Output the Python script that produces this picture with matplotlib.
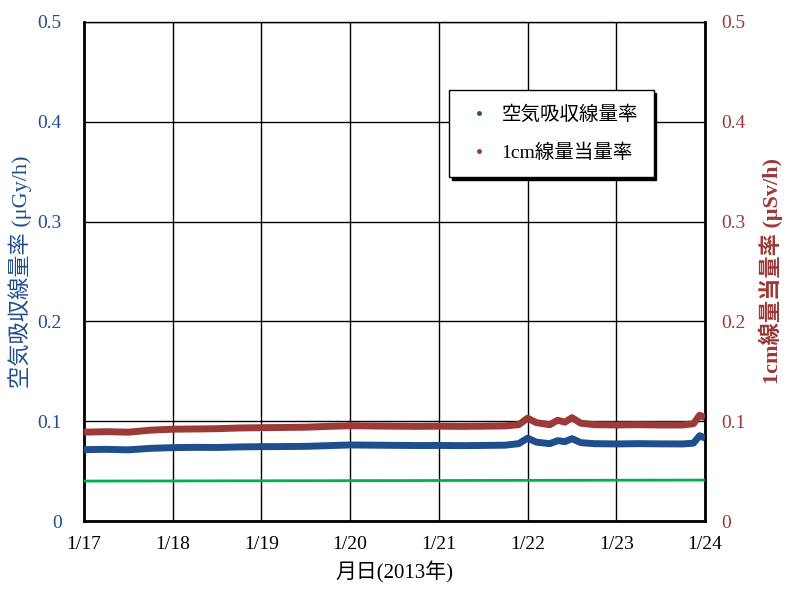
import matplotlib.pyplot as plt
from matplotlib.lines import Line2D

plt.rcParams['font.family'] = ['Liberation Serif', 'Noto Sans CJK JP', 'DejaVu Sans']

# days since 1/17 00:00
days = [0, 0.25, 0.5, 0.75, 1.0, 1.25, 1.5, 1.75, 2.0, 2.25, 2.5, 2.75, 3.0, 3.25,
        3.5, 3.75, 4.0, 4.25, 4.5, 4.75, 4.9, 5.0, 5.1, 5.25, 5.34, 5.42, 5.5, 5.6,
        5.75, 6.0, 6.25, 6.5, 6.75, 6.87, 6.94, 7.0]
air_dose = [0.0715, 0.0718, 0.0713, 0.0728, 0.0735, 0.0738, 0.0737, 0.0742, 0.0745,
            0.0746, 0.0748, 0.0755, 0.0762, 0.0760, 0.0758, 0.0756, 0.0757, 0.0755,
            0.0757, 0.0760, 0.0775, 0.0830, 0.0790, 0.0775, 0.0805, 0.0795, 0.0825,
            0.0785, 0.0775, 0.0772, 0.0775, 0.0773, 0.0772, 0.0780, 0.0855, 0.0830]
dose_1cm = [0.0890, 0.0895, 0.0890, 0.0910, 0.0920, 0.0922, 0.0925, 0.0932, 0.0935,
            0.0937, 0.0940, 0.0948, 0.0955, 0.0952, 0.0950, 0.0948, 0.0950, 0.0948,
            0.0950, 0.0953, 0.0965, 0.1030, 0.0985, 0.0965, 0.1010, 0.0990, 0.1035,
            0.0980, 0.0965, 0.0962, 0.0965, 0.0962, 0.0962, 0.0975, 0.1060, 0.1035]
green_days = [0, 3.5, 7]
green_level = [0.0400, 0.0405, 0.0410]

xticklabels = ['1/17', '1/18', '1/19', '1/20', '1/21', '1/22', '1/23', '1/24']
yticks = [0, 0.1, 0.2, 0.3, 0.4, 0.5]
yticklabels = ['0', '0.1', '0.2', '0.3', '0.4', '0.5']

blue = '#1F4E8C'
red = '#9B3A38'
green = '#00B050'

fig = plt.figure(figsize=(7.85, 5.90), dpi=100)
ax = fig.add_axes([84/785, 69/590, 621/785, 499/590])

ax.plot(days, dose_1cm, color=red, lw=5, solid_capstyle='butt', zorder=3)
ax.plot(days, air_dose, color=blue, lw=5, solid_capstyle='butt', zorder=3)
ax.plot(green_days, green_level, color=green, lw=2, zorder=3)

ax.set_xlim(0, 7)
ax.set_ylim(0, 0.5)
ax.set_xticks(range(8))
ax.set_xticklabels(xticklabels, fontsize=14)
ax.set_yticks(yticks)
ax.set_yticklabels(yticklabels, fontsize=14, color=blue)
ax.tick_params(axis='x', length=0, pad=11)
ax.tick_params(axis='y', length=0, pad=16)
ax.grid(True, color='black', lw=1)
for side in ['left', 'right', 'bottom']:
    ax.spines[side].set_linewidth(2)
ax.spines['top'].set_linewidth(1)

ax2 = ax.twinx()
ax2.set_ylim(0, 0.5)
ax2.set_yticks(yticks)
ax2.set_yticklabels(yticklabels, fontsize=14, color=red)
ax2.tick_params(length=0, pad=12)
for s in ax2.spines.values():
    s.set_visible(False)

ax.set_xlabel('月日(2013年)', fontsize=15, labelpad=6)
ax.set_ylabel('空気吸収線量率 (μGy/h)', fontsize=16, color=blue, labelpad=4)
ax2.set_ylabel('1cm線量当量率 (μSv/h)', fontsize=16, color=red, fontweight='bold', labelpad=9)

handles = [Line2D([], [], ls='none', marker='o', ms=2.5, color=blue),
           Line2D([], [], ls='none', marker='o', ms=2.5, color=red)]
leg = ax.legend(handles, ['空気吸収線量率', '1cm線量当量率'], loc='upper left',
                bbox_to_anchor=(365/621, 1 - 68/499), fontsize=14, frameon=True,
                fancybox=False, shadow={'color': 'black', 'alpha': 1}, edgecolor='black',
                framealpha=1, borderpad=0.8, labelspacing=1.0, handletextpad=0.4,
                handlelength=1.5, borderaxespad=0)
leg.get_frame().set_linewidth(1)
leg.set_zorder(5)

fig.savefig('out.png', dpi=100)
